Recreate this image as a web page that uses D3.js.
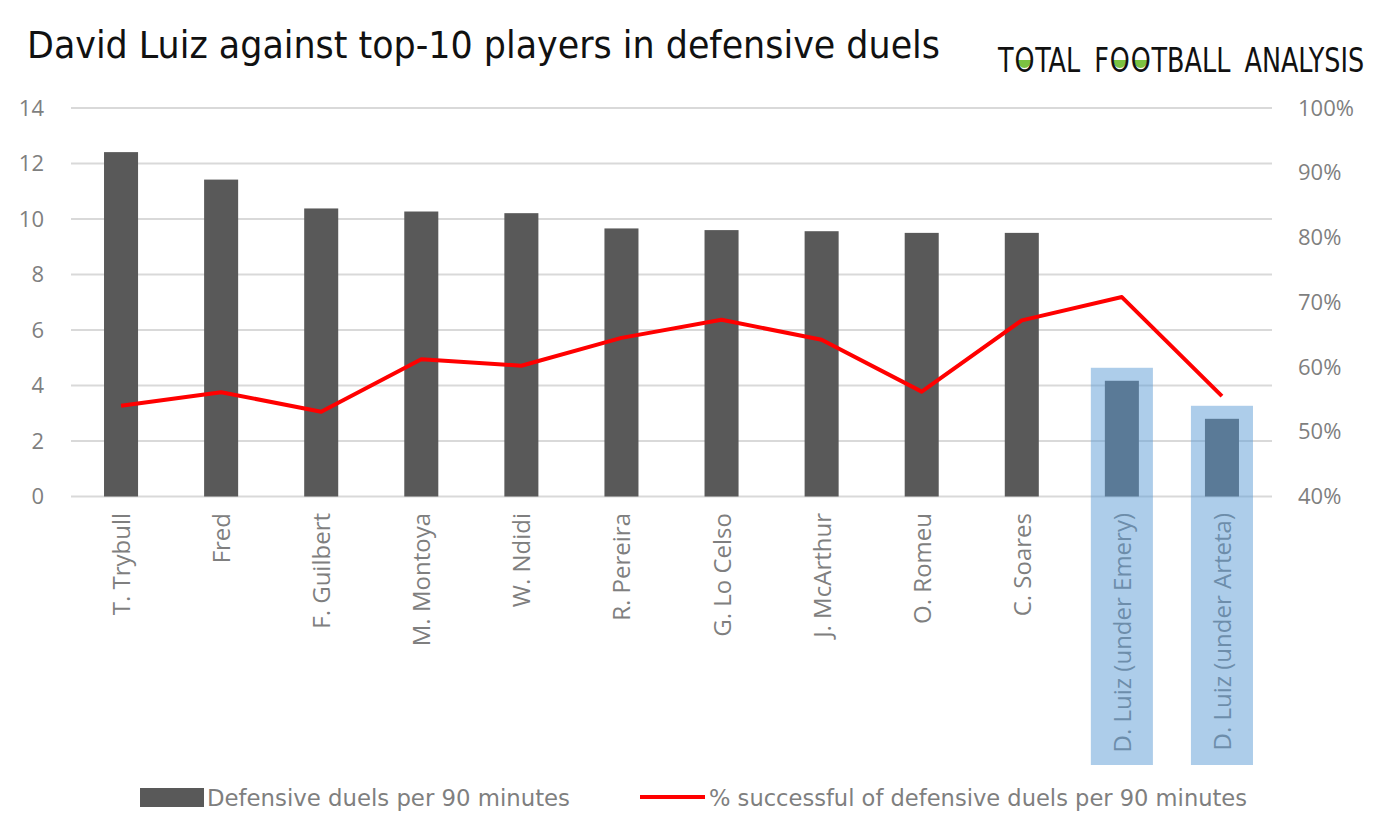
<!DOCTYPE html>
<html><head><meta charset="utf-8">
<script src="https://cdn.jsdelivr.net/npm/d3@7"></script>
<style>body{margin:0;background:#fff}svg{display:block}</style>
</head><body>
<script>
const categories = ["T. Trybull","Fred","F. Guilbert","M. Montoya","W. Ndidi","R. Pereira","G. Lo Celso","J. McArthur","O. Romeu","C. Soares","D. Luiz (under Emery)","D. Luiz (under Arteta)"];
const duels = [12.41,11.42,10.38,10.27,10.21,9.66,9.6,9.56,9.5,9.5,4.17,2.8];
const successPct = [54,56.1,53.1,61.2,60.2,64.5,67.3,64.2,56.2,67.2,70.8,55.5];
const highlighted = ["D. Luiz (under Emery)","D. Luiz (under Arteta)"];
const leftTicks = [0,2,4,6,8,10,12,14];
const rightTicks = [40,50,60,70,80,90,100];
const title = "David Luiz against top-10 players in defensive duels";
const legendLabels = ["Defensive duels per 90 minutes","% successful of defensive duels per 90 minutes"];
const logoParts = [["T",false],["O",true],["TAL",false],[" ",false],["F",false],["O",true],["O",true],["TBALL",false],[" ",false],["ANALYSIS",false]];

const W=1376,H=835;
const svg=d3.select("body").append("svg").attr("width",W).attr("height",H);
const x=d3.scaleBand().domain(categories).range([71,1272]).paddingInner(0.66).paddingOuter(0.33);
const yL=d3.scaleLinear().domain([0,14]).range([496.5,108]);
const yR=d3.scaleLinear().domain([40,100]).range([496.5,108]);
const gray="#7f7f7f", axisFont="'Open Sans', sans-serif";
const narrow="'Liberation Sans Narrow','DejaVu Sans Condensed',sans-serif";

// title
svg.append("text").attr("x",27).attr("y",58).text(title)
  .attr("font-family",narrow).attr("font-size",37).attr("fill","#111")
  .attr("textLength",913).attr("lengthAdjust","spacingAndGlyphs");

// logo: separate text pieces, laid out then scaled to fit
const lg=svg.append("g");
let cx=0;
logoParts.forEach(([t,o])=>{
  if(t===" "){cx+=16;return;}
  const el=lg.append("text").attr("x",cx).attr("y",0).text(t)
    .attr("font-family","'DejaVu Sans Condensed',sans-serif").attr("font-size",34)
    .attr("font-weight",200).attr("fill","#111");
  const w=el.node().getComputedTextLength();
  if(o){
    lg.insert("path","text").attr("d",d3.arc()({innerRadius:0,outerRadius:8,startAngle:Math.PI/2,endAngle:Math.PI*1.5}))
      .attr("transform",`translate(${cx+w/2},-12)`).attr("fill","#7cc242");
  }
  cx+=w+1;
});
lg.attr("transform",`translate(998,72) scale(${367/cx},1)`);

// gridlines
svg.append("g").selectAll("line").data(leftTicks).join("line")
  .attr("x1",71).attr("x2",1272).attr("y1",d=>yL(d)).attr("y2",d=>yL(d))
  .attr("stroke","#d9d9d9").attr("stroke-width",2);

// left axis
const gl=svg.append("g").attr("transform","translate(44,0)")
  .call(d3.axisLeft(yL).tickValues(leftTicks).tickSize(0).tickPadding(0));
gl.select(".domain").remove();
gl.selectAll("text").attr("font-family",axisFont).attr("font-size",22).attr("fill",gray);

// right axis
const gr=svg.append("g").attr("transform","translate(1298,0)")
  .call(d3.axisRight(yR).tickValues(rightTicks).tickSize(0).tickPadding(0).tickFormat(d=>d+"%"));
gr.select(".domain").remove();
gr.selectAll("text").attr("font-family",axisFont).attr("font-size",22).attr("fill",gray);

// bars
svg.append("g").selectAll("rect").data(categories).join("rect")
  .attr("x",d=>x(d)).attr("width",x.bandwidth())
  .attr("y",(d,i)=>yL(duels[i])).attr("height",(d,i)=>yL(0)-yL(duels[i]))
  .attr("fill","#595959");

// category labels
svg.append("g").selectAll("text").data(categories).join("text")
  .attr("transform",d=>`translate(${x(d)+x.bandwidth()/2+9},513) rotate(-90)`)
  .attr("text-anchor","end").attr("font-family",axisFont).attr("font-size",24)
  .attr("fill",gray).text(d=>d);

// highlight boxes
const hstep=x.step();
svg.append("g").selectAll("rect").data(highlighted).join("rect")
  .attr("x",d=>x(d)+x.bandwidth()/2-hstep*0.31).attr("width",hstep*0.62)
  .attr("y",d=>yL(duels[categories.indexOf(d)])-13)
  .attr("height",d=>765-(yL(duels[categories.indexOf(d)])-13))
  .attr("fill","rgba(91,155,213,0.5)");

// line
const line=d3.line().x((d,i)=>x(categories[i])+x.bandwidth()/2).y(d=>yR(d));
svg.append("path").datum(successPct).attr("d",line)
  .attr("fill","none").attr("stroke","#ff0000").attr("stroke-width",4).attr("stroke-linejoin","round");

// legend
svg.append("rect").attr("x",140).attr("y",788).attr("width",64).attr("height",19).attr("fill","#595959");
svg.append("text").attr("x",207).attr("y",806).text(legendLabels[0]).attr("font-family",narrow)
  .attr("font-size",23).attr("fill",gray).attr("textLength",363).attr("lengthAdjust","spacingAndGlyphs");
svg.append("line").attr("x1",640).attr("x2",705).attr("y1",797).attr("y2",797).attr("stroke","#ff0000").attr("stroke-width",4);
svg.append("text").attr("x",709).attr("y",806).text(legendLabels[1]).attr("font-family",narrow)
  .attr("font-size",23).attr("fill",gray).attr("textLength",538).attr("lengthAdjust","spacingAndGlyphs");
</script>
</body></html>
